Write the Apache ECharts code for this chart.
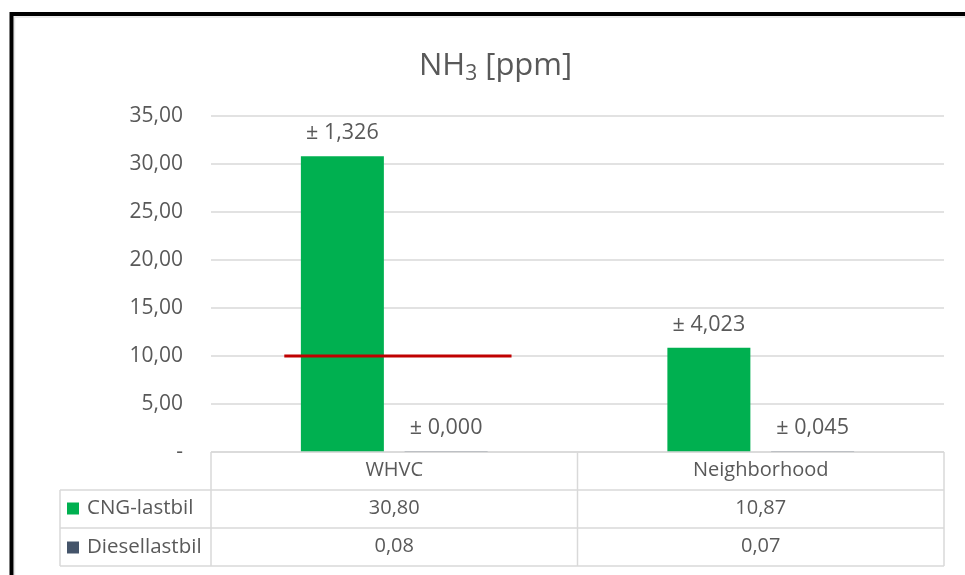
<!DOCTYPE html>
<html>
<head>
<meta charset="utf-8">
<script src="https://cdn.jsdelivr.net/npm/echarts@6/dist/echarts.min.js"></script>
<style>
  html, body { margin: 0; padding: 0; background: #fff; }
  #chart { width: 965px; height: 575px; }
</style>
</head>
<body>
<div id="chart"></div>
<script>
// NH3 concentration per driving cycle, CNG vs diesel truck
const categories = ['WHVC', 'Neighborhood'];
const seriesNames = ['CNG-lastbil', 'Diesellastbil'];
const cngValues = [30.80, 10.87];
const dieselValues = [0.08, 0.07];
const cngErrors = [1.326, 4.023];
const dieselErrors = [0.000, 0.045];
// limit value drawn as a horizontal segment across the WHVC group
const limitValue = 10;
const limitSpan = [-0.3, 0.32];   // in category-index units
const yMin = 0, yMax = 35, yStep = 5;

const FONT = '"Open Sans", "Noto Sans", sans-serif';
const TXT = '#595959';
const GRIDC = '#d9d9d9';
const GREEN = '#00B050';
const SLATE = '#44546A';

const fmt = (v, d) => v.toFixed(d).replace('.', ',');

const G = { left: 211, right: 21, top: 116, bottom: 123 };
const W = 965, H = 575;
const xL = G.left, xR = W - G.right, y0 = H - G.bottom;
const rowH = 38;
const midX = xL + (xR - xL) / 2;

const line = (x1, y1, x2, y2) => ({
  type: 'line', silent: true, z: 50,
  shape: { x1, y1, x2, y2 },
  style: { stroke: GRIDC, lineWidth: 1.5 }
});

const tableLines = [
  line(xL, y0, xR, y0),
  line(60, y0 + rowH, xR, y0 + rowH),
  line(60, y0 + 2 * rowH, xR, y0 + 2 * rowH),
  line(60, y0 + 3 * rowH, xR, y0 + 3 * rowH),
  line(60, y0 + rowH, 60, y0 + 3 * rowH),
  line(xL, y0, xL, y0 + 3 * rowH),
  line(midX, y0, midX, y0 + 3 * rowH),
  line(xR, y0, xR, y0 + 3 * rowH)
];

const tableAxis = (labels, margin) => ({
  type: 'category',
  data: categories,
  position: 'bottom',
  axisLine: { show: false },
  axisTick: { show: false },
  splitLine: { show: false },
  axisLabel: {
    margin,
    verticalAlign: 'middle',
    fontFamily: FONT, fontSize: 20, color: TXT,
    formatter: (v, i) => labels[i]
  }
});

const chart = echarts.init(document.getElementById('chart'), null, { renderer: 'canvas' });
chart.setOption({
  backgroundColor: '#fff',
  animation: false,
  title: {
    text: '{a|NH}{b|3}{a| [ppm]}',
    left: 414, top: 43,
    textStyle: {
      fontWeight: 'normal',
      rich: {
        a: { fontFamily: FONT, fontSize: 31, fontWeight: 'normal', color: TXT, lineHeight: 36 },
        b: { fontFamily: FONT, fontSize: 21, fontWeight: 'normal', color: TXT, lineHeight: 36, padding: [16, 0, 0, 0] }
      }
    }
  },
  legend: {
    orient: 'vertical',
    left: 67, top: 498,
    padding: 0,
    itemWidth: 12, itemHeight: 12,
    itemGap: 18,
    icon: 'rect',
    selectedMode: false,
    textStyle: { fontFamily: FONT, fontSize: 20.5, color: TXT, lineHeight: 20, padding: [0, 0, 0, 3] },
    data: seriesNames
  },
  grid: { left: G.left, right: G.right, top: G.top, bottom: G.bottom },
  xAxis: [
    tableAxis(categories, 18),
    tableAxis(cngValues.map(v => fmt(v, 2)), 18 + rowH),
    tableAxis(dieselValues.map(v => fmt(v, 2)), 18 + 2 * rowH),
    { type: 'value', min: -0.5, max: categories.length - 0.5, show: false }
  ],
  yAxis: {
    type: 'value',
    min: yMin, max: yMax, interval: yStep,
    axisLine: { show: false },
    axisTick: { show: false },
    splitLine: { lineStyle: { color: GRIDC, width: 1.5 } },
    axisLabel: {
      margin: 28,
      fontFamily: FONT, fontSize: 21, color: TXT,
      formatter: v => v === 0 ? '-' : fmt(v, 2)
    }
  },
  series: [
    {
      name: seriesNames[0], type: 'bar', xAxisIndex: 0,
      data: cngValues,
      barWidth: 83, barGap: '25%',
      itemStyle: { color: GREEN },
      label: {
        show: true, position: 'top', distance: 12,
        fontFamily: FONT, fontSize: 21.5, color: TXT,
        formatter: p => '± ' + fmt(cngErrors[p.dataIndex], 3)
      }
    },
    {
      name: seriesNames[1], type: 'bar', xAxisIndex: 0,
      data: dieselValues,
      barWidth: 83, barGap: '25%',
      itemStyle: { color: SLATE },
      label: {
        show: true, position: 'top', distance: 12,
        fontFamily: FONT, fontSize: 21.5, color: TXT,
        formatter: p => '± ' + fmt(dieselErrors[p.dataIndex], 3)
      }
    },
    {
      name: 'limit', type: 'line', xAxisIndex: 3,
      data: limitSpan.map(x => [x, limitValue]),
      symbol: 'none',
      lineStyle: { color: '#C00000', width: 3 },
      z: 5, silent: true
    }
  ],
  graphic: [
    {
      type: 'rect', silent: true, z: 100,
      shape: { x: 11.5, y: 14, width: 2000, height: 2000 },
      style: { fill: null, stroke: '#000', lineWidth: 4 }
    },
    {
      type: 'rect', silent: true, z: 99,
      shape: { x: 14.5, y: 17, width: 2000, height: 2000 },
      style: { fill: null, stroke: '#e6e6e6', lineWidth: 1.5 }
    }
  ].concat(tableLines)
});
</script>
</body>
</html>
